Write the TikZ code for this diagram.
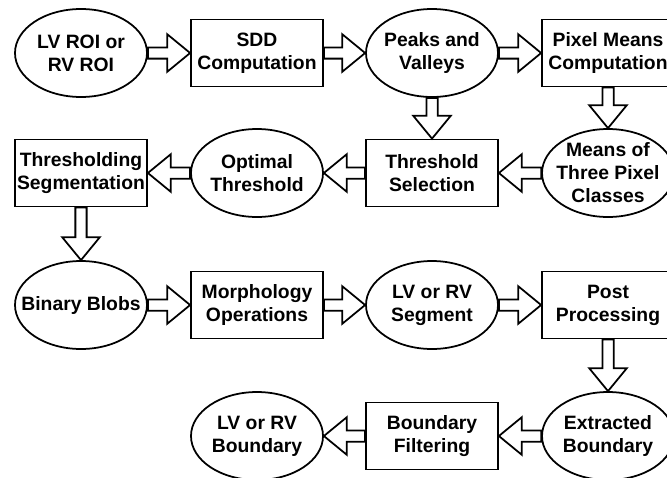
\documentclass[tikz,border=0pt]{standalone}
\usepackage{fontspec}
\setmainfont{Liberation Sans}
\usepackage{tikz}
\usetikzlibrary{calc,shapes.geometric}

\begin{document}
\begin{tikzpicture}[
  stage/.style={draw=black, line width=1.5pt, minimum width=3.96cm,
    minimum height=2.01cm, inner sep=0pt, align=center,
    font=\bfseries\fontsize{16.5}{19.6}\selectfont},
  outcome/.style={ellipse, draw=black, line width=1.5pt, minimum width=3.96cm,
    minimum height=2.64cm, inner xsep=-0.5cm, inner ysep=-0.4cm, align=center,
    font=\bfseries\fontsize{16.5}{19.6}\selectfont},
  hollow/.style={draw=black, line width=1.5pt, fill=white, line join=miter,
    to path={let \p1=(\tikztostart), \p2=(\tikztotarget),
      \n1={atan2(\y2-\y1,\x2-\x1)} in
      ($(\p1)+(\n1+90:4.8pt)$) -- ($(\p2)+(\n1+180:19.5pt)+(\n1+90:4.8pt)$)
      -- ($(\p2)+(\n1+180:19.5pt)+(\n1+90:16pt)$) -- (\p2)
      -- ($(\p2)+(\n1+180:19.5pt)+(\n1-90:16pt)$)
      -- ($(\p2)+(\n1+180:19.5pt)+(\n1-90:4.8pt)$)
      -- ($(\p1)+(\n1-90:4.8pt)$) -- cycle}}
]
\clip (0,0) rectangle (20.01,-14.31);

\node[outcome] (roi) at (2.43,-1.59) {LV ROI or\\RV ROI};
\node[stage] (sdd) at (7.71,-1.59) {SDD\\Computation};
\node[outcome] (peaks) at (12.96,-1.59) {Peaks and\\Valleys};
\node[stage] (pixmean) at (18.24,-1.59) {Pixel Means\\Computation};
\node[outcome] (classes) at (18.24,-5.19) {Means of\\Three Pixel\\Classes};
\node[stage] (select) at (12.96,-5.19) {Threshold\\Selection};
\node[outcome] (optimal) at (7.71,-5.19) {Optimal\\Threshold};
\node[stage] (thseg) at (2.43,-5.19) {Thresholding\\Segmentation};
\node[outcome] (blobs) at (2.43,-9.15) {Binary Blobs};
\node[stage] (morph) at (7.71,-9.15) {Morphology\\Operations};
\node[outcome] (segment) at (12.96,-9.15) {LV or RV\\Segment};
\node[stage] (post) at (18.24,-9.15) {Post\\Processing};
\node[outcome] (extract) at (18.24,-13.08) {Extracted\\Boundary};
\node[stage] (filter) at (12.96,-13.08) {Boundary\\Filtering};
\node[outcome] (bound) at (7.71,-13.08) {LV or RV\\Boundary};

\draw[hollow] (roi.east) to (sdd.west);
\draw[hollow] (sdd.east) to (peaks.west);
\draw[hollow] (peaks.east) to (pixmean.west);
\draw[hollow] (pixmean.south) to (classes.north);
\draw[hollow] (peaks.south) to (select.north);
\draw[hollow] (classes.west) to (select.east);
\draw[hollow] (select.west) to (optimal.east);
\draw[hollow] (optimal.west) to (thseg.east);
\draw[hollow] (thseg.south) to (blobs.north);
\draw[hollow] (blobs.east) to (morph.west);
\draw[hollow] (morph.east) to (segment.west);
\draw[hollow] (segment.east) to (post.west);
\draw[hollow] (post.south) to (extract.north);
\draw[hollow] (extract.west) to (filter.east);
\draw[hollow] (filter.west) to (bound.east);
\end{tikzpicture}
\end{document}
